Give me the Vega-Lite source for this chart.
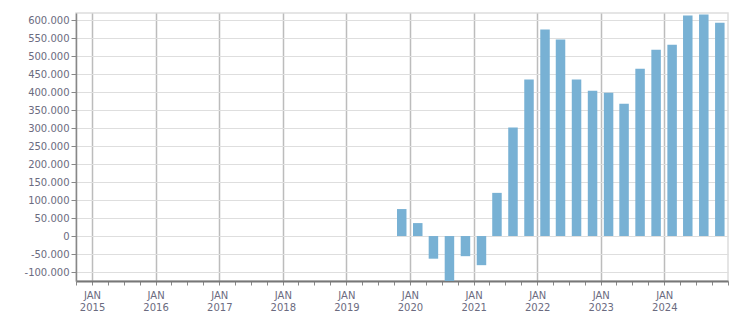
{
  "$schema": "https://vega.github.io/schema/vega-lite/v6.json",
  "width": 652,
  "height": 268,
  "autosize": {"type": "none"},
  "padding": {"left": 76, "top": 13, "right": 23, "bottom": 32},
  "background": "white",
  "config": {
    "view": {"stroke": "#dddddd", "strokeWidth": 1.5},
    "font": "DejaVu Sans"
  },
  "data": {
    "values": [
      {"date": "2019-11-15", "value": 75000},
      {"date": "2020-02-15", "value": 36000},
      {"date": "2020-05-15", "value": -63000},
      {"date": "2020-08-15", "value": -126000},
      {"date": "2020-11-15", "value": -56000},
      {"date": "2021-02-15", "value": -81000},
      {"date": "2021-05-15", "value": 120000},
      {"date": "2021-08-15", "value": 302000},
      {"date": "2021-11-15", "value": 435000},
      {"date": "2022-02-15", "value": 574000},
      {"date": "2022-05-15", "value": 546000},
      {"date": "2022-08-15", "value": 435000},
      {"date": "2022-11-15", "value": 404000},
      {"date": "2023-02-15", "value": 398000},
      {"date": "2023-05-15", "value": 368000},
      {"date": "2023-08-15", "value": 465000},
      {"date": "2023-11-15", "value": 518000},
      {"date": "2024-02-15", "value": 532000},
      {"date": "2024-05-15", "value": 613000},
      {"date": "2024-08-15", "value": 616000},
      {"date": "2024-11-15", "value": 593000}
    ]
  },
  "mark": {"type": "bar", "width": 9.5, "color": "#78b1d4", "clip": true},
  "encoding": {
    "x": {
      "field": "date",
      "type": "temporal",
      "title": null,
      "scale": {"domain": ["2014-10-01T00:00:00", "2025-01-01T00:00:00"], "nice": false, "padding": 0},
      "axis": {
        "tickCount": {"interval": "month", "step": 3},
        "labelExpr": "month(datum.value) == 0 && year(datum.value) < 2025 ? ['JAN', timeFormat(datum.value, '%Y')] : ''",
        "labelFont": "DejaVu Sans",
        "labelFontSize": 10,
        "labelColor": "#6b6b80",
        "labelLineHeight": 12.5,
        "labelPadding": 5,
        "labelOverlap": false,
        "labelFlush": false,
        "domainColor": "#777777",
        "domainWidth": 2,
        "tickColor": "#888888",
        "tickSize": 4,
        "grid": true,
        "gridColor": {"condition": {"test": "month(datum.value) == 0 && year(datum.value) < 2025", "value": "#bcbcbc"}, "value": null},
        "gridWidth": 1.5
      }
    },
    "y": {
      "field": "value",
      "type": "quantitative",
      "title": null,
      "scale": {"domain": [-125000, 620000], "nice": false, "zero": false},
      "axis": {
        "values": [-100000, -50000, 0, 50000, 100000, 150000, 200000, 250000, 300000, 350000, 400000, 450000, 500000, 550000, 600000],
        "labelExpr": "replace(replace(format(datum.value, ','), ',', '.'), '\u2212', '-')",
        "labelFont": "DejaVu Sans",
        "labelFontSize": 10,
        "labelColor": "#6b6b80",
        "labelPadding": 2,
        "domainColor": "#888888",
        "domainWidth": 1.5,
        "tickColor": "#888888",
        "tickSize": 5,
        "gridColor": "#dedede",
        "gridWidth": 1.2
      }
    }
  }
}
